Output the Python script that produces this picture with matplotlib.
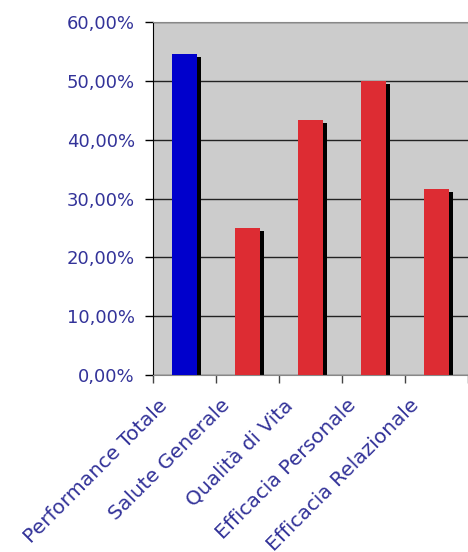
import matplotlib
matplotlib.use('Agg')
from matplotlib import pyplot as plt
from matplotlib import transforms
from matplotlib.ticker import FuncFormatter, FixedLocator

import numpy as np

categories = ['Performance Totale', 'Salute Generale', 'Qualità di Vita',
              'Efficacia Personale', 'Efficacia Relazionale']
values = [54.6, 25.0, 43.4, 50.0, 31.6]
bar_colors = ['#0000CC', '#DD2C33', '#DD2C33', '#DD2C33', '#DD2C33']
yticks = [0, 10, 20, 30, 40, 50, 60]

TEXT = '#333399'
FS = 13

fig = plt.figure(figsize=(4.68, 5.52), dpi=100)
ax = fig.add_axes([153 / 468, 1 - 374.7 / 552, 1 - 153 / 468, (374.7 - 22.3) / 552])
ax.set_facecolor('#CCCCCC')

xs = np.arange(len(categories))
w = 0.41

# shadow: same bars shifted 4px right, 3px down
shadow = transforms.offset_copy(ax.transData, fig=fig, x=4, y=-3, units='dots')
ax.bar(xs, values, width=w, color='black', transform=shadow, zorder=2)
ax.bar(xs, values, width=w, color=bar_colors, zorder=3)

ax.set_xlim(-0.5, len(categories) - 0.5)
ax.set_ylim(0, 60)
ax.set_yticks(yticks)
ax.yaxis.set_major_formatter(FuncFormatter(lambda v, p: '{:.2f}%'.format(v).replace('.', ',')))
ax.grid(axis='y', color='#222222', linewidth=1, zorder=1)
ax.set_axisbelow(True)

ax.xaxis.set_major_locator(FixedLocator(np.arange(-0.5, len(categories), 1)))
ax.set_xticklabels([])
lab_tr = transforms.offset_copy(ax.get_xaxis_transform(), fig=fig, x=-27, y=-21, units='dots')
for x, lab in zip(xs, categories):
    ax.text(x, 0, lab, transform=lab_tr,
            rotation=45, ha='right', va='top', rotation_mode='anchor',
            fontsize=14.5, color=TEXT, family='DejaVu Sans', clip_on=False)

ax.tick_params(axis='y', length=6, width=1, colors='black', labelcolor=TEXT, labelsize=FS, pad=7)
ax.tick_params(axis='x', length=6, width=1, colors='#444444')
ax.spines['right'].set_visible(False)
ax.spines['top'].set_color('#888888')
ax.spines['left'].set_color('black')
ax.spines['bottom'].set_color('#888888')

fig.savefig('out.png', dpi=100)
